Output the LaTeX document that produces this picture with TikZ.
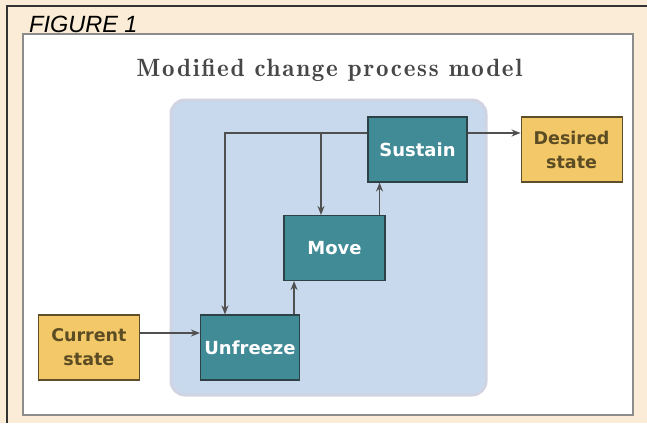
\documentclass[tikz,border=0pt]{standalone}
\usepackage{fontspec}
\newfontfamily\boxfont{DejaVu Sans}
\newfontfamily\figfont{Liberation Sans}
\newfontfamily\titlefont[LetterSpace=7]{lmromandemi10-regular.otf}
\usetikzlibrary{positioning,arrows.meta,calc}
\definecolor{cream}{RGB}{250,236,214}
\definecolor{panelrim}{RGB}{140,140,140}
\definecolor{regblue}{RGB}{201,217,237}
\definecolor{regrim}{RGB}{208,211,226}
\definecolor{tealfill}{RGB}{64,139,149}
\definecolor{tealrim}{RGB}{44,66,70}
\definecolor{goldfill}{RGB}{242,200,104}
\definecolor{goldrim}{RGB}{95,78,42}
\definecolor{goldtext}{RGB}{92,76,36}
\definecolor{arrowgray}{RGB}{80,80,80}

\begin{document}
\begin{tikzpicture}[
  x=1pt, y=-1pt,
  >={Stealth[length=9pt, width=7pt]},
  stagebox/.style={draw=tealrim, line width=1.1pt, fill=tealfill, text=white, align=center,
                   inner sep=0pt, minimum width=99pt, minimum height=65pt,
                   font=\boxfont\bfseries\fontsize{18}{22}\selectfont},
  statebox/.style={draw=goldrim, line width=1.1pt, fill=goldfill, text=goldtext, align=center,
                   inner sep=0pt, minimum width=101pt, minimum height=65pt,
                   font=\boxfont\bfseries\fontsize{17.5}{24}\selectfont},
  flow/.style={->, line width=1.4pt, draw=arrowgray},
]
% ---- page and frame ----
\useasboundingbox[fill=cream] (0,0) rectangle (647,423);
\draw[line width=1.6pt, draw=black!80] (7,423) -- (7,6) -- (647,6);
\node[anchor=base west, inner sep=0pt, font=\figfont\itshape\fontsize{23.5}{28}\selectfont] (fig)
  at (29,32) {FIGURE 1};

% ---- white panel and title ----
\draw[fill=white, draw=panelrim, line width=1.8pt] (23,34) rectangle (633,415);
\node[anchor=base, inner sep=0pt, font=\titlefont\fontsize{25}{30}\selectfont, text=black!72] (title)
  at (329.5,76) {Modified change process model};

% ---- shaded region round the three stages ----
\draw[fill=regblue, draw=regrim, line width=3pt, rounded corners=14pt]
  (171,100) rectangle (486,395);

% ---- stages ----
\node[stagebox] (unf) at (250,347.5) {Unfreeze};
\node[stagebox, minimum width=101pt] (mov) at (334.5,248) {Move};
\node[stagebox] (sus) at (417.5,149.5) {Sustain};

% ---- states ----
\node[statebox, left=60pt of unf] (cur) {Current\\state};
\node[statebox, right=53pt of sus] (des) {Desired\\state};

% ---- edges ----
\draw[flow] ([yshift=14.5pt]cur.east) -- ([yshift=14.5pt]cur.east -| unf.west);
\draw[flow] ([xshift=-6pt]unf.north east) -- ([xshift=-6pt]unf.north east |- mov.south);
\draw[flow] ([xshift=-6pt]mov.north east) -- ([xshift=-6pt]mov.north east |- sus.south);
\draw[flow] ([yshift=16.5pt]sus.east) -- ([yshift=16.5pt]sus.east -| des.west);

% feedback from Sustain back to Move and Unfreeze
\draw[flow] ([yshift=16.5pt]sus.west) -| ([xshift=25pt]unf.north west);
\coordinate (tap) at ([yshift=16.5pt]sus.west -| 321,0);
\draw[flow] (tap) -- (tap |- mov.north);

\end{tikzpicture}
\end{document}
